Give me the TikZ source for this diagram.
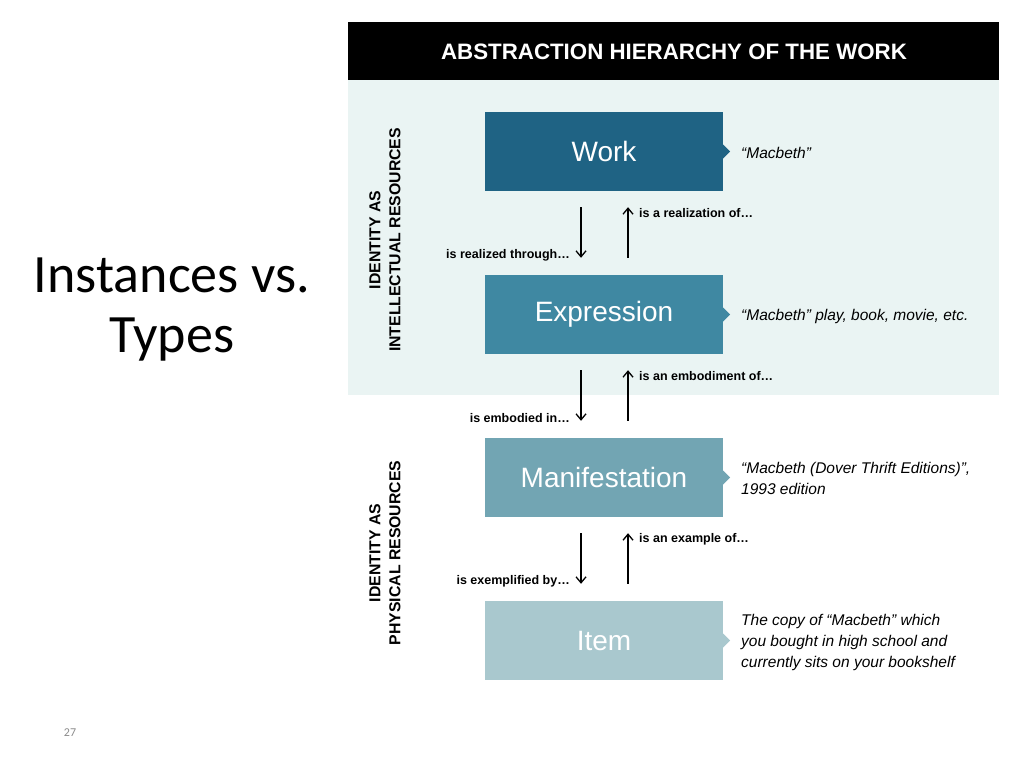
\documentclass[tikz,border=0pt]{standalone}
\usepackage{fontspec}
\setmainfont{Liberation Sans}
\newfontfamily\slidefont{Carlito}
\usetikzlibrary{arrows.meta,calc}
\definecolor{hdr}{HTML}{000000}
\definecolor{panel}{HTML}{EAF4F3}
\definecolor{cwork}{HTML}{1F6384}
\definecolor{cexpr}{HTML}{3F88A2}
\definecolor{cmani}{HTML}{72A5B3}
\definecolor{citem}{HTML}{A9C8CE}
\definecolor{numgray}{HTML}{8C8C8C}
\tikzset{
  levelbox/.style={minimum width=238pt,minimum height=79pt,inner sep=0pt,text=white,
     font=\fontsize{28}{32}\selectfont},
  relarrow/.style={draw=black,line width=1.3pt,-{Straight Barb[length=6pt,width=10pt,line width=1.3pt]}},
  rellabel/.style={font=\bfseries\fontsize{12.5}{14}\selectfont,inner sep=0pt},
  example/.style={font=\itshape\fontsize{15.5}{21}\selectfont,align=left,anchor=west,inner sep=0pt},
  sidelabel/.style={font=\bfseries\fontsize{15.8}{20}\selectfont,align=center,rotate=90,inner sep=0pt},
}
\newcommand{\pointer}[2]{\fill[#2] ($(#1.east)+(0,-7)$) -- ($(#1.east)+(7,0)$) -- ($(#1.east)+(0,7)$) -- cycle;}
\begin{document}
\begin{tikzpicture}[x=1pt,y=-1pt]
\useasboundingbox[fill=white] (0,0) rectangle (1024,768);
% slide title
\node[font=\slidefont\fontsize{54}{60}\selectfont,align=center] (title) at (172,310) {Instances vs.\\Types};
\node[font=\slidefont\fontsize{12}{14}\selectfont,text=numgray] (pnum) at (70,733) {27};
% panels
\fill[panel] (348,80) rectangle (999,395);
\fill[hdr] (348,22) rectangle (999,80);
\node[text=white,font=\bfseries\fontsize{22.3}{26}\selectfont] (head) at (674,52) {ABSTRACTION HIERARCHY OF THE WORK};
% side labels
\node[sidelabel] (intel) at (385,240) {IDENTITY AS\\INTELLECTUAL RESOURCES};
\node[sidelabel] (phys) at (385,553) {IDENTITY AS\\PHYSICAL RESOURCES};
% boxes
\node[levelbox,fill=cwork] (work) at (604,151.5) {Work};
\node[levelbox,fill=cexpr] (expr) at (604,314.5) {Expression};
\node[levelbox,fill=cmani] (mani) at (604,477.5) {Manifestation};
\node[levelbox,fill=citem] (item) at (604,640.5) {Item};
\pointer{work}{cwork}
\pointer{expr}{cexpr}
\pointer{mani}{cmani}
\pointer{item}{citem}
% examples
\node[example] (exwork) at (741,153) {“Macbeth”};
\node[example] (exexpr) at (741,316) {“Macbeth” play, book, movie, etc.};
\node[example] (exmani) at (741,478) {“Macbeth (Dover Thrift Editions)”,\\1993 edition};
\node[example] (exitem) at (741,642) {The copy of “Macbeth” which\\you bought in high school and\\currently sits on your bookshelf};
% arrows
\foreach \a/\b in {work/expr,expr/mani,mani/item}{
  \draw[relarrow,shorten <=16pt,shorten >=17pt] ([xshift=-23pt]\a.south) -- ([xshift=-23pt]\b.north);
  \draw[relarrow,shorten <=17pt,shorten >=16pt] ([xshift=24pt]\b.north) -- ([xshift=24pt]\a.south);
}
% relation labels
\node[rellabel,anchor=east] (l1) at (570,255) {is realized through…};
\node[rellabel,anchor=west] (l2) at (639,213) {is a realization of…};
\node[rellabel,anchor=east] (l3) at (570,418) {is embodied in…};
\node[rellabel,anchor=west] (l4) at (639,376) {is an embodiment of…};
\node[rellabel,anchor=east] (l5) at (570,581) {is exemplified by…};
\node[rellabel,anchor=west] (l6) at (639,539) {is an example of…};
\end{tikzpicture}
\end{document}
